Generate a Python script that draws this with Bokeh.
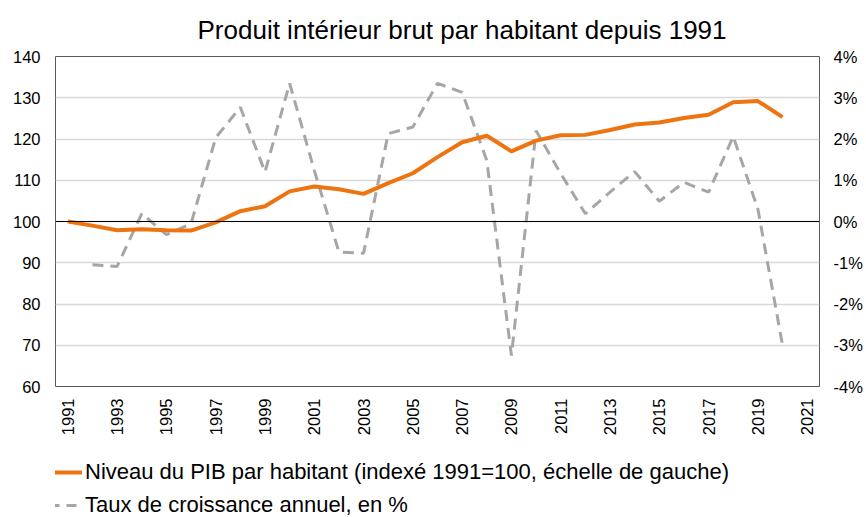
import numpy as np
from bokeh.plotting import figure
from bokeh.layouts import column
from bokeh.models import (Range1d, LinearAxis, FixedTicker, PrintfTickFormatter,
                          Span, Legend, LegendItem, ColumnDataSource)
from bokeh.embed import file_html
from bokeh.resources import INLINE

FONT = "Liberation Sans"

title_text = "Produit intérieur brut par habitant depuis 1991"
pib_label = "Niveau du PIB par habitant (indexé 1991=100, échelle de gauche)"
growth_label = "Taux de croissance annuel, en %"

pib_years = list(range(1991, 2021))
pib_values = [100.0, 99.0, 97.9, 98.1, 97.9, 97.8, 99.8, 102.5, 103.7, 107.3,
              108.5, 107.8, 106.7, 109.3, 111.7, 115.6, 119.2, 120.8, 117.0, 119.6,
              120.9, 121.0, 122.2, 123.5, 124.0, 125.1, 125.9, 128.9, 129.2, 125.3]

growth_years = list(range(1992, 2021))
growth_values = [-1.05, -1.09, 0.19, -0.32, -0.05, 2.03, 2.77, 1.20, 3.35, 1.24,
                 -0.74, -0.77, 2.13, 2.29, 3.35, 3.13, 1.48, -3.25, 2.20, 1.16,
                 0.19, 0.71, 1.21, 0.49, 0.95, 0.71, 2.06, 0.30, -3.00]

left_ticks = [60, 70, 80, 90, 100, 110, 120, 130, 140]
right_ticks = [-4, -3, -2, -1, 0, 1, 2, 3, 4]
year_ticks = list(range(1991, 2022, 2))

ORANGE = "#ed7410"
GREY = "#a6a6a6"

p = figure(width=866, height=440, output_backend="svg", toolbar_location=None,
           x_range=Range1d(1990.5, 2021.5), y_range=Range1d(60, 140),
           min_border_left=55, min_border_right=47, min_border_top=0,
           min_border_bottom=54)

p.title.text = title_text
p.title.text_font = FONT
p.title.text_font_size = "26px"
p.title.text_font_style = "normal"
p.title.text_color = "#000000"
p.title.align = "left"
p.title.offset = 142
p.title.standoff = 24

p.outline_line_color = "#595959"
p.outline_line_width = 1

p.extra_y_ranges = {"pct": Range1d(-4, 4)}

def style_axis(ax, standoff):
    ax.axis_line_color = None
    ax.major_tick_line_color = None
    ax.minor_tick_line_color = None
    ax.major_tick_out = 0
    ax.major_tick_in = 0
    ax.minor_tick_out = 0
    ax.minor_tick_in = 0
    ax.major_label_text_font = FONT
    ax.major_label_text_font_size = "16.5px"
    ax.major_label_text_color = "#000000"
    ax.major_label_standoff = standoff

ya = p.yaxis[0]
ya.ticker = FixedTicker(ticks=left_ticks)
style_axis(ya, 15)

ra = LinearAxis(y_range_name="pct", ticker=FixedTicker(ticks=right_ticks),
                formatter=PrintfTickFormatter(format="%d%%"))
style_axis(ra, 14)
ra.major_label_text_align = "left"
p.add_layout(ra, "right")

xa = p.xaxis[0]
xa.ticker = FixedTicker(ticks=year_ticks)
xa.major_label_orientation = np.pi / 2
style_axis(xa, 12)

p.xgrid.grid_line_color = None
p.ygrid.ticker = FixedTicker(ticks=left_ticks)
p.ygrid.grid_line_color = "#d9d9d9"
p.ygrid.grid_line_width = 1.5

p.add_layout(Span(location=100, dimension="width", line_color="#000000", line_width=1.2))

src_g = ColumnDataSource(dict(x=growth_years, y=growth_values))
src_p = ColumnDataSource(dict(x=pib_years, y=pib_values))

p.line("x", "y", source=src_g, y_range_name="pct", line_color=GREY,
       line_width=3, line_dash="11 7")
p.line("x", "y", source=src_p, line_color=ORANGE, line_width=4)

# legend strip below the chart (its series lie outside its empty view)
lg = figure(width=866, height=77, output_backend="svg", toolbar_location=None,
            x_axis_type=None, y_axis_type=None,
            x_range=Range1d(0, 1), y_range=Range1d(0, 1),
            min_border=0, min_border_left=0, min_border_right=0,
            min_border_top=0, min_border_bottom=0)
lg.outline_line_color = None
lg.xgrid.grid_line_color = None
lg.ygrid.grid_line_color = None
lr_p = lg.line("x", "y", source=src_p, line_color=ORANGE, line_width=4)
lr_g = lg.line("x", "y", source=src_g, line_color=GREY, line_width=3, line_dash="10 7")

legend = Legend(items=[LegendItem(label=pib_label, renderers=[lr_p]),
                       LegendItem(label=growth_label, renderers=[lr_g])],
                location=(-23, -1), orientation="vertical")
legend.border_line_color = None
legend.background_fill_alpha = 0
legend.label_text_font = FONT
legend.label_text_font_size = "22px"
legend.label_text_color = "#000000"
legend.glyph_width = 50
legend.glyph_height = 22
legend.label_height = 22
legend.label_standoff = 3
legend.spacing = 7
legend.padding = 0
legend.margin = 0
lg.add_layout(legend, "center")

layout = column(p, lg, spacing=0)

open("out.html", "w").write(file_html(layout, INLINE))
